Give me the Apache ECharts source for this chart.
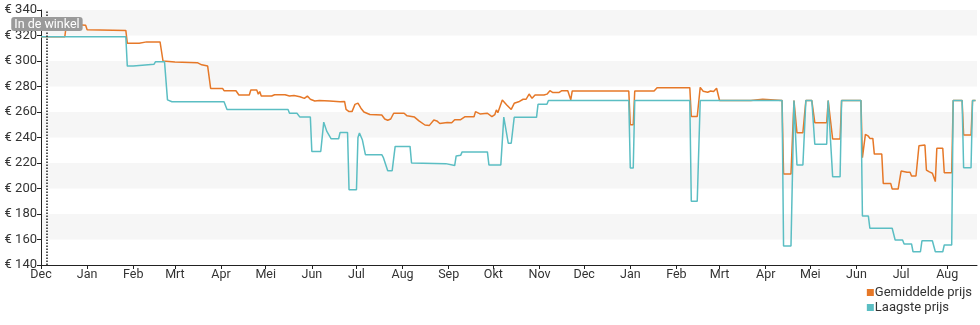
<!DOCTYPE html>
<html>
<head>
<meta charset="utf-8">
<script src="https://cdn.jsdelivr.net/npm/echarts@6/dist/echarts.min.js"></script>
<style>
html,body{margin:0;padding:0;background:#fff;}
#chart{width:980px;height:325px;}
</style>
</head>
<body>
<div id="chart"></div>
<script>
const monthNames = ['Jan','Feb','Mrt','Apr','Mei','Jun','Jul','Aug','Sep','Okt','Nov','Dec'];
const seriesNames = ['Gemiddelde prijs','Laagste prijs'];
const yTicks = [140,160,180,200,220,240,260,280,300,320,340];
const storeDate = '2022-12-05';
const storeLabel = 'In de winkel';

const gemiddeldePrijs = [
['2022-12-01',319],['2022-12-17',319],['2022-12-18',328],['2022-12-26',328.5],['2022-12-31',328],
['2023-01-01',324.5],['2023-01-27',324],['2023-01-28',314],['2023-02-05',314],['2023-02-10',315],
['2023-02-19',315],['2023-02-21',300],['2023-03-01',299.2],['2023-03-16',298.7],['2023-03-19',297],
['2023-03-20',296],['2023-03-23',296],['2023-03-25',278.5],['2023-04-02',278.5],['2023-04-03',276.7],
['2023-04-11',276.7],['2023-04-13',273.3],['2023-04-20',273.3],['2023-04-21',277.3],['2023-04-25',277.3],
['2023-04-26',274],['2023-04-27',276],['2023-04-28',272.5],['2023-05-05',272.5],['2023-05-07',273.5],
['2023-05-14',273.5],['2023-05-17',272.5],['2023-05-20',273],['2023-05-24',272],['2023-05-27',270.7],
['2023-05-29',272.5],['2023-05-31',270],['2023-06-03',268.6],['2023-06-06',269],['2023-06-13',268.6],
['2023-06-20',268],['2023-06-23',268.3],['2023-06-24',262],['2023-06-26',260.3],['2023-06-28',260.3],
['2023-06-30',266],['2023-07-02',267],['2023-07-04',263],['2023-07-06',260],['2023-07-10',258],
['2023-07-18',257.6],['2023-07-20',254.5],['2023-07-22',253.5],['2023-07-24',254.5],['2023-07-26',259],
['2023-08-02',259],['2023-08-04',257],['2023-08-07',256.5],['2023-08-09',256],['2023-08-12',253],
['2023-08-16',249.8],['2023-08-19',249.5],['2023-08-22',253.7],['2023-08-24',253],['2023-08-26',251],
['2023-08-31',251.8],['2023-09-03',251.5],['2023-09-05',254],['2023-09-09',254],['2023-09-12',256.3],
['2023-09-18',256.3],['2023-09-19',260.3],['2023-09-22',258.5],['2023-09-27',259],['2023-09-30',256.3],
['2023-10-02',258],['2023-10-03',261.6],['2023-10-04',259.5],['2023-10-07',269.4],['2023-10-10',265.5],
['2023-10-13',262],['2023-10-15',266.8],['2023-10-18',268],['2023-10-21',270],['2023-10-23',270],
['2023-10-25',274.1],['2023-10-27',270.7],['2023-10-29',273.3],['2023-11-04',273.3],['2023-11-06',274],
['2023-11-08',276.7],['2023-11-10',275.2],['2023-11-14',275.2],['2023-11-16',276.7],['2023-11-20',276.7],
['2023-11-22',269.5],['2023-11-23',276.5],['2023-12-31',276.5],['2024-01-01',250],['2024-01-03',250],
['2024-01-04',276.5],['2024-01-17',276.5],['2024-01-19',279.1],['2024-02-10',279.1],['2024-02-11',256.5],
['2024-02-15',256.5],['2024-02-17',279.3],['2024-02-19',276.3],['2024-02-22',275.5],['2024-02-24',276.5],
['2024-02-26',276],['2024-02-28',278.6],['2024-03-01',269],['2024-03-22',269],['2024-03-23',270],
['2024-03-30',270],['2024-03-31',269],['2024-04-12',269],['2024-04-13',211.4],['2024-04-18',211.4],
['2024-04-20',269],['2024-04-21',269],['2024-04-22',243.8],['2024-04-26',243.8],['2024-04-28',269],
['2024-05-02',269],['2024-05-04',251.6],['2024-05-12',251.6],['2024-05-13',269],['2024-05-14',269],
['2024-05-16',238.8],['2024-05-21',238.8],['2024-05-22',269],['2024-06-04',269],['2024-06-05',224.2],
['2024-06-06',224.2],['2024-06-07',242.5],['2024-06-09',241],['2024-06-10',239.3],['2024-06-12',239.3],
['2024-06-13',227],['2024-06-18',227],['2024-06-19',204],['2024-06-24',204],['2024-06-25',199.6],
['2024-06-29',199.6],['2024-07-01',213.7],['2024-07-05',212.7],['2024-07-07',212.7],['2024-07-08',209.8],
['2024-07-11',209.8],['2024-07-13',233.5],['2024-07-17',234.1],['2024-07-18',214.5],['2024-07-20',213],
['2024-07-22',212],['2024-07-24',205.4],['2024-07-25',231.5],['2024-07-29',231.5],['2024-07-30',212.4],
['2024-08-04',212.4],['2024-08-05',269],['2024-08-11',269],['2024-08-12',242],['2024-08-17',242],
['2024-08-18',269],['2024-08-20',269]
];

const laagstePrijs = [
['2022-12-01',319],['2023-01-27',319],['2023-01-28',296],['2023-02-01',296],['2023-02-02',297.5],
['2023-02-15',297.5],['2023-02-16',299.5],['2023-02-22',299.5],['2023-02-24',269.5],['2023-02-27',268],
['2023-04-03',268],['2023-04-05',262],['2023-05-16',262],['2023-05-17',259],['2023-05-22',259],
['2023-05-24',256],['2023-05-31',256],['2023-06-01',229],['2023-06-07',229],['2023-06-09',252],
['2023-06-11',245],['2023-06-14',239],['2023-06-19',239],['2023-06-20',244],['2023-06-25',244],
['2023-06-26',199],['2023-07-01',199],['2023-07-02',240],['2023-07-03',243.5],['2023-07-05',238],
['2023-07-07',226.5],['2023-07-18',226.5],['2023-07-19',224.5],['2023-07-20',224.5],['2023-07-22',214],
['2023-07-25',214],['2023-07-27',233],['2023-08-06',233],['2023-08-07',220],['2023-08-30',219.5],
['2023-08-31',218],['2023-09-05',218],['2023-09-06',225.5],['2023-09-09',226],['2023-09-10',228.7],
['2023-09-27',228.7],['2023-09-28',218.5],['2023-10-06',218.5],['2023-10-08',256],['2023-10-09',256],
['2023-10-11',235.5],['2023-10-13',235.5],['2023-10-15',255.8],['2023-10-30',255.8],['2023-10-31',266],
['2023-11-06',266],['2023-11-07',269],['2023-12-31',269],['2024-01-01',216],['2024-01-03',216],
['2024-01-04',269],['2024-02-10',269],['2024-02-11',190],['2024-02-15',190],['2024-02-17',269],
['2024-04-12',269],['2024-04-13',155],['2024-04-18',155],['2024-04-20',269],['2024-04-21',269],
['2024-04-22',218.4],['2024-04-26',218.4],['2024-04-28',269],['2024-05-02',269],['2024-05-04',234.7],
['2024-05-12',234.7],['2024-05-13',269],['2024-05-14',269],['2024-05-16',209.3],['2024-05-21',209.3],
['2024-05-22',269],['2024-06-04',269],['2024-06-05',178.4],['2024-06-09',178.4],['2024-06-10',168.8],
['2024-06-25',168.8],['2024-06-27',159.6],['2024-07-02',159.6],['2024-07-03',156.5],['2024-07-08',156.5],
['2024-07-09',150.4],['2024-07-14',150.4],['2024-07-15',159],['2024-07-22',159],['2024-07-24',150.4],
['2024-07-29',150.4],['2024-07-30',155.7],['2024-08-04',155.7],['2024-08-05',269],['2024-08-11',269],
['2024-08-12',216.3],['2024-08-17',216.3],['2024-08-18',269],['2024-08-20',269]
];

const colors = ['#e67828', '#5bbec3'];
const chart = echarts.init(document.getElementById('chart'), null, {renderer:'canvas'});
const DAY = 86400000;
chart.setOption({
  animation:false,
  color: colors,
  textStyle:{fontFamily:'Roboto'},
  grid:{left:41, right:3, top:10, bottom:60, containLabel:false},
  legend:{
    orient:'vertical', right:3, bottom:6, itemWidth:7, itemHeight:7, itemGap:2,
    icon:'rect', data:seriesNames, align:'left',
    textStyle:{fontSize:13, color:'#333', padding:[0,0,0,-4]}
  },
  xAxis:{
    type:'time', min:'2022-12-01', max:'2024-08-21',
    minInterval:28*DAY, maxInterval:31*DAY, splitNumber:21,
    axisLine:{show:true, lineStyle:{color:'#222', width:1}},
    axisTick:{show:true, length:4, lineStyle:{color:'#222'}},
    axisLabel:{
      color:'#333', fontSize:12.5, margin:3, showMinLabel:true, hideOverlap:false,
      formatter:function(v){ return monthNames[new Date(v).getMonth()]; }
    },
    splitLine:{show:false}
  },
  yAxis:{
    type:'value', min:yTicks[0], max:yTicks[yTicks.length-1], interval:20,
    axisLine:{show:true, lineStyle:{color:'#222', width:1}},
    axisTick:{show:true, length:4, lineStyle:{color:'#222'}},
    axisLabel:{color:'#333', fontSize:13, margin:4, formatter:'€ {value}'},
    splitLine:{show:false},
    splitArea:{show:true, areaStyle:{color:['rgba(255,255,255,0)','#f6f6f6']}}
  },
  series:[
    {
      name:seriesNames[0], type:'line', data:gemiddeldePrijs, showSymbol:false, symbol:'none',
      lineStyle:{width:1.5, color:colors[0]}, z:2,
      markLine:{
        silent:true, symbol:'none',
        lineStyle:{type:'dotted', color:'#222', width:1.5},
        label:{show:true, position:'end', formatter:storeLabel, color:'#fff', fontSize:12.5,
               backgroundColor:'#9a9a9a', borderRadius:3, padding:[1,3,0,3], distance:-21},
        data:[{xAxis:storeDate}]
      }
    },
    {
      name:seriesNames[1], type:'line', data:laagstePrijs, showSymbol:false, symbol:'none',
      lineStyle:{width:1.5, color:colors[1]}, z:3
    }
  ]
});
</script>
</body>
</html>
